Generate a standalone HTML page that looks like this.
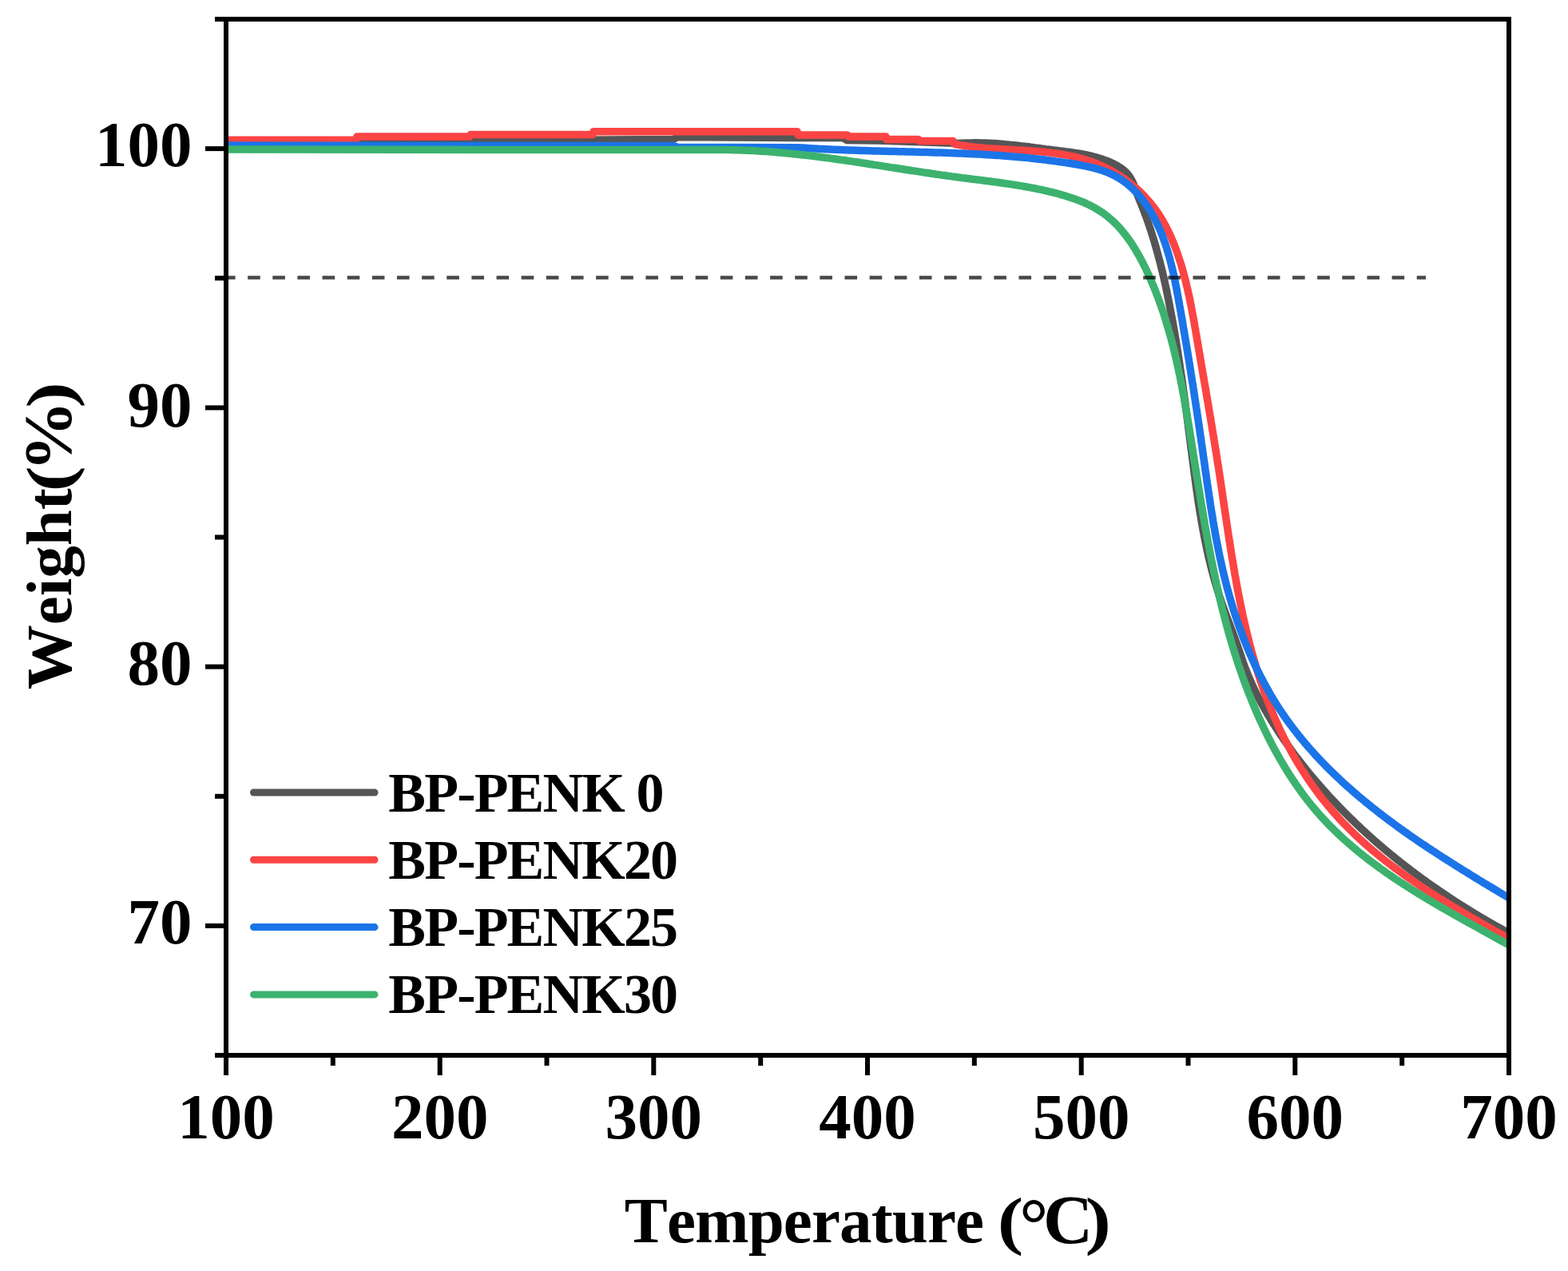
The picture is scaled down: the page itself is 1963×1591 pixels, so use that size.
<!DOCTYPE html><html><head><meta charset="utf-8"><title>TGA</title><style>html,body{margin:0;padding:0;background:#fff;}svg{display:block}text{font-family:"Liberation Serif","Times New Roman",serif;font-weight:bold;font-kerning:none}</style></head><body>
<svg width="1963" height="1591" viewBox="0 0 1963 1591">
<rect width="1963" height="1591" fill="#fff"/>
<g fill="none" stroke-width="9.5" stroke-linejoin="round" stroke-linecap="butt">
<path d="M283.0,178.0 L446.0,177.5 L843.0,174.5 L848.0,171.5 L1000.0,172.5 L1055.0,172.5 L1060.0,175.5 L1100.0,176.0 L1130.0,177.0 L1160.0,178.0 L1200.0,179.5 L1202.8,179.3 L1205.5,179.2 L1208.2,179.1 L1211.0,179.0 L1213.7,178.9 L1216.4,178.9 L1219.1,178.8 L1221.8,178.8 L1224.5,178.8 L1227.2,178.9 L1229.9,178.9 L1232.5,179.0 L1235.2,179.1 L1237.9,179.2 L1240.5,179.3 L1243.2,179.5 L1245.8,179.6 L1248.5,179.8 L1251.1,180.0 L1253.7,180.2 L1256.4,180.4 L1259.0,180.7 L1261.6,180.9 L1264.3,181.2 L1266.9,181.4 L1269.5,181.7 L1272.1,182.0 L1274.8,182.3 L1277.4,182.6 L1280.0,182.9 L1282.7,183.2 L1285.3,183.5 L1287.9,183.8 L1290.6,184.2 L1293.2,184.5 L1295.9,184.9 L1298.5,185.2 L1301.2,185.5 L1303.8,185.9 L1306.5,186.2 L1309.1,186.6 L1311.8,186.9 L1314.5,187.3 L1317.2,187.6 L1319.9,188.0 L1322.6,188.3 L1325.3,188.6 L1328.0,189.0 L1330.7,189.3 L1333.4,189.7 L1336.1,190.0 L1338.8,190.4 L1341.6,190.8 L1344.3,191.2 L1347.0,191.6 L1349.7,192.0 L1352.4,192.5 L1355.0,193.0 L1357.7,193.5 L1360.4,194.0 L1363.0,194.6 L1365.7,195.2 L1368.3,195.8 L1370.9,196.5 L1373.5,197.2 L1376.1,198.0 L1378.6,198.8 L1381.2,199.7 L1383.7,200.6 L1386.2,201.5 L1388.6,202.5 L1391.1,203.6 L1393.5,204.7 L1395.8,205.9 L1398.1,207.1 L1400.4,208.5 L1402.6,209.9 L1404.7,211.4 L1406.7,213.0 L1408.6,214.6 L1410.4,216.4 L1412.1,218.3 L1413.6,220.3 L1415.0,222.4 L1416.3,224.6 L1417.5,226.9 L1418.6,229.3 L1419.6,231.7 L1420.6,234.2 L1421.5,236.7 L1422.4,239.3 L1423.3,241.8 L1424.3,244.4 L1425.2,246.9 L1426.2,249.4 L1427.2,251.9 L1428.3,254.4 L1429.3,256.9 L1430.3,259.4 L1431.2,261.9 L1432.2,264.4 L1433.1,266.9 L1434.1,269.4 L1435.0,272.0 L1435.9,274.5 L1436.8,277.0 L1437.7,279.5 L1438.6,282.1 L1439.4,284.6 L1440.3,287.1 L1441.1,289.7 L1441.9,292.2 L1442.7,294.8 L1443.5,297.3 L1444.3,299.9 L1445.1,302.4 L1445.8,305.0 L1446.6,307.6 L1447.3,310.1 L1448.0,312.7 L1448.7,315.3 L1449.4,317.8 L1450.1,320.4 L1450.8,323.0 L1451.5,325.6 L1452.2,328.2 L1452.8,330.8 L1453.5,333.3 L1454.1,335.9 L1454.7,338.5 L1455.4,341.1 L1456.0,343.7 L1456.6,346.3 L1457.2,348.9 L1457.8,351.5 L1458.4,354.1 L1458.9,356.7 L1459.5,359.3 L1460.1,362.0 L1460.6,364.6 L1461.2,367.2 L1461.7,369.8 L1462.2,372.4 L1462.8,375.0 L1463.3,377.6 L1463.8,380.3 L1464.3,382.9 L1464.8,385.5 L1465.3,388.1 L1465.8,390.7 L1466.3,393.4 L1466.8,396.0 L1467.3,398.6 L1467.8,401.2 L1468.3,403.9 L1468.7,406.5 L1469.2,409.1 L1469.7,411.8 L1470.1,414.4 L1470.6,417.0 L1471.0,419.7 L1471.5,422.3 L1471.9,424.9 L1472.3,427.6 L1472.8,430.2 L1473.2,432.8 L1473.6,435.5 L1474.1,438.1 L1474.5,440.7 L1474.9,443.4 L1475.3,446.0 L1475.7,448.7 L1476.1,451.3 L1476.5,454.0 L1476.9,456.6 L1477.3,459.2 L1477.7,461.9 L1478.1,464.5 L1478.5,467.2 L1478.9,469.8 L1479.3,472.5 L1479.7,475.1 L1480.0,477.8 L1480.4,480.4 L1480.8,483.1 L1481.2,485.7 L1481.5,488.4 L1481.9,491.0 L1482.3,493.7 L1482.6,496.3 L1483.0,499.0 L1483.4,501.7 L1483.7,504.3 L1484.1,507.0 L1484.4,509.6 L1484.8,512.3 L1485.2,514.9 L1485.5,517.6 L1485.9,520.3 L1486.2,522.9 L1486.6,525.6 L1486.9,528.2 L1487.3,530.9 L1487.6,533.6 L1487.9,536.2 L1488.3,538.9 L1488.6,541.6 L1489.0,544.2 L1489.3,546.9 L1489.7,549.6 L1490.0,552.2 L1490.3,554.9 L1490.7,557.6 L1491.0,560.2 L1491.4,562.9 L1491.7,565.6 L1492.1,568.2 L1492.4,570.9 L1492.7,573.6 L1493.1,576.2 L1493.4,578.9 L1493.8,581.6 L1494.1,584.2 L1494.5,586.9 L1494.8,589.6 L1495.2,592.2 L1495.5,594.9 L1495.9,597.6 L1496.2,600.2 L1496.6,602.9 L1497.0,605.6 L1497.3,608.2 L1497.7,610.9 L1498.1,613.6 L1498.5,616.2 L1498.9,618.9 L1499.2,621.5 L1499.6,624.2 L1500.0,626.9 L1500.4,629.5 L1500.8,632.2 L1501.3,634.8 L1501.7,637.5 L1502.1,640.1 L1502.5,642.8 L1503.0,645.4 L1503.4,648.1 L1503.9,650.7 L1504.3,653.3 L1504.8,656.0 L1505.2,658.6 L1505.7,661.3 L1506.2,663.9 L1506.7,666.5 L1507.2,669.1 L1507.7,671.8 L1508.2,674.4 L1508.7,677.0 L1509.3,679.6 L1509.8,682.2 L1510.4,684.8 L1510.9,687.5 L1511.5,690.1 L1512.1,692.7 L1512.6,695.3 L1513.2,697.9 L1513.9,700.4 L1514.5,703.0 L1515.1,705.6 L1515.7,708.2 L1516.4,710.8 L1517.0,713.4 L1517.7,715.9 L1518.4,718.5 L1519.1,721.1 L1519.8,723.6 L1520.5,726.2 L1521.3,728.7 L1522.0,731.3 L1522.8,733.8 L1523.5,736.4 L1524.3,738.9 L1525.1,741.4 L1525.9,744.0 L1526.7,746.5 L1527.6,749.0 L1528.4,751.5 L1529.3,754.0 L1530.2,756.5 L1531.1,759.0 L1532.0,761.5 L1532.9,764.0 L1533.8,766.5 L1534.7,769.0 L1535.6,771.5 L1536.5,774.0 L1537.5,776.5 L1538.4,779.0 L1539.4,781.5 L1540.3,784.0 L1541.2,786.4 L1542.2,788.9 L1543.1,791.4 L1544.0,793.9 L1544.9,796.4 L1545.9,799.0 L1546.8,801.5 L1547.7,804.0 L1548.6,806.5 L1549.5,809.0 L1550.3,811.6 L1551.2,814.1 L1552.1,816.6 L1552.9,819.2 L1553.8,821.7 L1554.7,824.3 L1555.5,826.8 L1556.4,829.3 L1557.3,831.8 L1558.2,834.4 L1559.2,836.9 L1560.1,839.4 L1561.1,841.8 L1562.1,844.3 L1563.1,846.8 L1564.1,849.2 L1565.2,851.7 L1566.3,854.1 L1567.4,856.6 L1568.5,859.0 L1569.6,861.4 L1570.8,863.8 L1571.9,866.2 L1573.1,868.6 L1574.3,870.9 L1575.5,873.3 L1576.7,875.6 L1578.0,878.0 L1579.2,880.3 L1580.5,882.7 L1581.8,885.0 L1583.1,887.3 L1584.4,889.6 L1585.8,891.9 L1587.1,894.2 L1588.5,896.5 L1589.9,898.8 L1591.2,901.1 L1592.6,903.3 L1594.0,905.6 L1595.5,907.8 L1596.9,910.1 L1598.3,912.3 L1599.8,914.6 L1601.3,916.8 L1602.7,919.0 L1604.2,921.2 L1605.7,923.5 L1607.2,925.7 L1608.7,927.9 L1610.3,930.1 L1611.8,932.2 L1613.3,934.4 L1614.9,936.6 L1616.5,938.8 L1618.0,940.9 L1619.6,943.1 L1621.2,945.2 L1622.8,947.4 L1624.5,949.5 L1626.1,951.6 L1627.7,953.7 L1629.4,955.9 L1631.0,958.0 L1632.7,960.1 L1634.3,962.2 L1636.0,964.3 L1637.7,966.3 L1639.4,968.4 L1641.1,970.5 L1642.8,972.5 L1644.6,974.6 L1646.3,976.6 L1648.0,978.7 L1649.8,980.7 L1651.5,982.7 L1653.3,984.8 L1655.1,986.8 L1656.8,988.8 L1658.6,990.8 L1660.4,992.8 L1662.2,994.8 L1664.0,996.7 L1665.9,998.7 L1667.7,1000.7 L1669.5,1002.6 L1671.4,1004.6 L1673.2,1006.5 L1675.1,1008.5 L1676.9,1010.4 L1678.8,1012.3 L1680.7,1014.2 L1682.5,1016.1 L1684.4,1018.0 L1686.3,1019.9 L1688.2,1021.8 L1690.1,1023.7 L1692.0,1025.6 L1694.0,1027.4 L1695.9,1029.3 L1697.8,1031.2 L1699.8,1033.0 L1701.7,1034.8 L1703.7,1036.7 L1705.6,1038.5 L1707.6,1040.3 L1709.6,1042.1 L1711.5,1043.9 L1713.5,1045.7 L1715.5,1047.5 L1717.5,1049.3 L1719.5,1051.1 L1721.5,1052.8 L1723.5,1054.6 L1725.5,1056.3 L1727.6,1058.1 L1729.6,1059.8 L1731.6,1061.6 L1733.7,1063.3 L1735.7,1065.0 L1737.8,1066.7 L1739.8,1068.4 L1741.9,1070.1 L1744.0,1071.8 L1746.1,1073.5 L1748.1,1075.2 L1750.2,1076.9 L1752.3,1078.5 L1754.4,1080.2 L1756.5,1081.8 L1758.6,1083.5 L1760.7,1085.1 L1762.9,1086.7 L1765.0,1088.4 L1767.1,1090.0 L1769.3,1091.6 L1771.4,1093.2 L1773.5,1094.8 L1775.7,1096.4 L1777.9,1098.0 L1780.0,1099.6 L1782.2,1101.1 L1784.4,1102.7 L1786.5,1104.3 L1788.7,1105.8 L1790.9,1107.4 L1793.1,1108.9 L1795.3,1110.5 L1797.5,1112.0 L1799.7,1113.5 L1801.9,1115.0 L1804.1,1116.5 L1806.3,1118.0 L1808.6,1119.5 L1810.8,1121.0 L1813.0,1122.5 L1815.3,1124.0 L1817.5,1125.4 L1819.7,1126.9 L1822.0,1128.4 L1824.2,1129.8 L1826.5,1131.3 L1828.8,1132.7 L1831.0,1134.1 L1833.3,1135.6 L1835.6,1137.0 L1837.9,1138.4 L1840.2,1139.8 L1842.4,1141.2 L1844.7,1142.6 L1847.0,1144.0 L1849.3,1145.4 L1851.6,1146.8 L1853.9,1148.1 L1856.3,1149.5 L1858.6,1150.9 L1860.9,1152.2 L1863.2,1153.6 L1865.5,1154.9 L1867.9,1156.2 L1870.2,1157.6 L1872.5,1158.9 L1874.9,1160.2 L1877.2,1161.5 L1879.6,1162.8 L1881.9,1164.1 L1884.3,1165.4 L1886.6,1166.7 L1889.0,1168.0" stroke="#555555"/>
<path d="M283.0,175.2 L446.0,175.2 L447.0,171.0 L588.0,171.0 L589.0,168.6 L742.0,168.6 L743.0,164.7 L998.0,164.7 L999.0,169.0 L1061.0,169.0 L1062.0,171.0 L1109.0,171.0 L1110.0,174.5 L1150.0,174.5 L1151.0,176.5 L1193.0,176.5 L1194.0,180.0 L1196.5,180.5 L1199.0,181.0 L1201.5,181.5 L1204.0,181.9 L1206.6,182.3 L1209.2,182.7 L1211.7,183.1 L1214.3,183.4 L1216.9,183.8 L1219.6,184.1 L1222.2,184.4 L1224.9,184.6 L1227.5,184.9 L1230.2,185.1 L1232.9,185.4 L1235.6,185.6 L1238.3,185.8 L1241.0,186.0 L1243.7,186.2 L1246.4,186.3 L1249.2,186.5 L1251.9,186.7 L1254.7,186.8 L1257.4,187.0 L1260.2,187.1 L1263.0,187.3 L1265.7,187.5 L1268.5,187.6 L1271.3,187.8 L1274.1,187.9 L1276.9,188.1 L1279.6,188.2 L1282.4,188.4 L1285.2,188.6 L1288.0,188.8 L1290.8,188.9 L1293.5,189.2 L1296.3,189.4 L1299.1,189.6 L1301.9,189.8 L1304.6,190.1 L1307.4,190.3 L1310.2,190.6 L1312.9,190.9 L1315.7,191.3 L1318.4,191.6 L1321.1,192.0 L1323.9,192.3 L1326.6,192.7 L1329.3,193.2 L1332.0,193.6 L1334.7,194.1 L1337.4,194.6 L1340.0,195.2 L1342.7,195.7 L1345.3,196.3 L1347.9,196.9 L1350.6,197.6 L1353.2,198.3 L1355.8,199.0 L1358.3,199.8 L1360.9,200.6 L1363.4,201.4 L1365.9,202.3 L1368.5,203.2 L1370.9,204.2 L1373.4,205.2 L1375.9,206.2 L1378.3,207.2 L1380.7,208.3 L1383.1,209.5 L1385.5,210.6 L1387.8,211.8 L1390.2,213.1 L1392.5,214.3 L1394.8,215.7 L1397.0,217.0 L1399.3,218.4 L1401.5,219.8 L1403.7,221.2 L1405.9,222.7 L1408.0,224.2 L1410.2,225.7 L1412.3,227.3 L1414.4,228.9 L1416.4,230.6 L1418.4,232.2 L1420.4,233.9 L1422.4,235.7 L1424.4,237.4 L1426.3,239.2 L1428.2,241.0 L1430.0,242.9 L1431.9,244.7 L1433.7,246.7 L1435.4,248.6 L1437.2,250.6 L1438.9,252.6 L1440.6,254.6 L1442.2,256.6 L1443.8,258.7 L1445.4,260.8 L1447.0,262.9 L1448.5,265.1 L1450.0,267.3 L1451.5,269.5 L1452.9,271.7 L1454.3,274.0 L1455.6,276.3 L1456.9,278.6 L1458.2,280.9 L1459.5,283.3 L1460.7,285.6 L1461.9,288.0 L1463.1,290.4 L1464.2,292.9 L1465.4,295.3 L1466.4,297.8 L1467.5,300.2 L1468.5,302.7 L1469.6,305.2 L1470.5,307.8 L1471.5,310.3 L1472.5,312.8 L1473.4,315.4 L1474.3,317.9 L1475.1,320.5 L1476.0,323.1 L1476.8,325.6 L1477.7,328.2 L1478.5,330.8 L1479.2,333.4 L1480.0,336.0 L1480.8,338.7 L1481.5,341.3 L1482.2,343.9 L1482.9,346.5 L1483.6,349.2 L1484.3,351.8 L1484.9,354.4 L1485.5,357.1 L1486.2,359.7 L1486.8,362.4 L1487.4,365.1 L1488.0,367.7 L1488.6,370.4 L1489.1,373.1 L1489.7,375.7 L1490.2,378.4 L1490.8,381.1 L1491.3,383.8 L1491.8,386.5 L1492.3,389.1 L1492.8,391.8 L1493.3,394.5 L1493.8,397.2 L1494.3,399.9 L1494.8,402.6 L1495.3,405.3 L1495.7,408.0 L1496.2,410.7 L1496.7,413.3 L1497.1,416.0 L1497.6,418.7 L1498.1,421.4 L1498.5,424.1 L1499.0,426.8 L1499.4,429.4 L1499.9,432.1 L1500.3,434.8 L1500.8,437.5 L1501.2,440.1 L1501.7,442.8 L1502.2,445.5 L1502.6,448.1 L1503.1,450.8 L1503.5,453.5 L1504.0,456.1 L1504.4,458.8 L1504.9,461.4 L1505.3,464.1 L1505.8,466.7 L1506.2,469.4 L1506.7,472.0 L1507.1,474.7 L1507.6,477.3 L1508.1,480.0 L1508.5,482.6 L1509.0,485.3 L1509.4,487.9 L1509.9,490.6 L1510.3,493.2 L1510.8,495.8 L1511.2,498.5 L1511.7,501.1 L1512.1,503.8 L1512.5,506.4 L1513.0,509.0 L1513.4,511.7 L1513.9,514.3 L1514.3,517.0 L1514.8,519.6 L1515.2,522.2 L1515.7,524.9 L1516.1,527.5 L1516.5,530.1 L1517.0,532.8 L1517.4,535.4 L1517.8,538.0 L1518.3,540.7 L1518.7,543.3 L1519.1,546.0 L1519.6,548.6 L1520.0,551.2 L1520.4,553.9 L1520.9,556.5 L1521.3,559.2 L1521.7,561.8 L1522.1,564.4 L1522.6,567.1 L1523.0,569.7 L1523.4,572.4 L1523.8,575.0 L1524.2,577.7 L1524.6,580.3 L1525.0,583.0 L1525.5,585.6 L1525.9,588.3 L1526.3,590.9 L1526.7,593.6 L1527.1,596.3 L1527.5,598.9 L1527.9,601.6 L1528.3,604.2 L1528.7,606.9 L1529.1,609.6 L1529.5,612.2 L1529.9,614.9 L1530.3,617.6 L1530.7,620.3 L1531.0,622.9 L1531.4,625.6 L1531.8,628.3 L1532.2,630.9 L1532.6,633.6 L1533.0,636.3 L1533.4,639.0 L1533.8,641.6 L1534.2,644.3 L1534.6,647.0 L1535.0,649.7 L1535.4,652.4 L1535.8,655.0 L1536.2,657.7 L1536.6,660.4 L1537.0,663.1 L1537.4,665.8 L1537.8,668.4 L1538.2,671.1 L1538.6,673.8 L1539.0,676.5 L1539.5,679.1 L1539.9,681.8 L1540.3,684.5 L1540.7,687.2 L1541.1,689.9 L1541.6,692.5 L1542.0,695.2 L1542.4,697.9 L1542.9,700.6 L1543.3,703.2 L1543.8,705.9 L1544.2,708.6 L1544.7,711.3 L1545.1,713.9 L1545.6,716.6 L1546.0,719.3 L1546.5,721.9 L1547.0,724.6 L1547.5,727.3 L1547.9,729.9 L1548.4,732.6 L1548.9,735.3 L1549.4,737.9 L1549.9,740.6 L1550.4,743.2 L1550.9,745.9 L1551.5,748.5 L1552.0,751.2 L1552.5,753.8 L1553.1,756.5 L1553.6,759.1 L1554.1,761.8 L1554.7,764.4 L1555.3,767.1 L1555.8,769.7 L1556.4,772.3 L1557.0,775.0 L1557.6,777.6 L1558.2,780.2 L1558.8,782.9 L1559.4,785.5 L1560.0,788.1 L1560.6,790.7 L1561.3,793.4 L1561.9,796.0 L1562.6,798.6 L1563.2,801.2 L1563.9,803.8 L1564.5,806.4 L1565.2,809.0 L1565.9,811.6 L1566.6,814.2 L1567.3,816.8 L1568.0,819.4 L1568.8,822.0 L1569.5,824.6 L1570.3,827.1 L1571.0,829.7 L1571.8,832.3 L1572.5,834.9 L1573.3,837.4 L1574.1,840.0 L1574.9,842.5 L1575.7,845.1 L1576.6,847.7 L1577.4,850.2 L1578.2,852.7 L1579.1,855.3 L1580.0,857.8 L1580.8,860.4 L1581.7,862.9 L1582.6,865.4 L1583.5,867.9 L1584.5,870.4 L1585.4,873.0 L1586.3,875.5 L1587.3,878.0 L1588.3,880.5 L1589.3,883.0 L1590.2,885.4 L1591.3,887.9 L1592.3,890.4 L1593.3,892.9 L1594.4,895.4 L1595.4,897.8 L1596.5,900.3 L1597.6,902.7 L1598.7,905.2 L1599.8,907.6 L1600.9,910.1 L1602.0,912.5 L1603.2,914.9 L1604.3,917.4 L1605.5,919.8 L1606.7,922.2 L1607.9,924.6 L1609.1,927.0 L1610.4,929.4 L1611.6,931.8 L1612.9,934.2 L1614.2,936.6 L1615.5,938.9 L1616.8,941.3 L1618.1,943.7 L1619.4,946.0 L1620.8,948.4 L1622.1,950.7 L1623.5,953.0 L1624.9,955.4 L1626.3,957.7 L1627.7,960.0 L1629.2,962.3 L1630.6,964.6 L1632.1,966.8 L1633.5,969.1 L1635.0,971.4 L1636.5,973.6 L1638.0,975.9 L1639.5,978.1 L1641.1,980.3 L1642.6,982.5 L1644.2,984.7 L1645.8,986.9 L1647.4,989.1 L1649.0,991.3 L1650.6,993.5 L1652.2,995.6 L1653.9,997.8 L1655.5,999.9 L1657.2,1002.0 L1658.9,1004.1 L1660.6,1006.2 L1662.3,1008.3 L1664.0,1010.4 L1665.8,1012.4 L1667.5,1014.5 L1669.3,1016.5 L1671.1,1018.5 L1672.9,1020.5 L1674.7,1022.5 L1676.5,1024.5 L1678.3,1026.5 L1680.1,1028.4 L1682.0,1030.4 L1683.9,1032.3 L1685.7,1034.2 L1687.6,1036.1 L1689.5,1038.0 L1691.4,1039.9 L1693.4,1041.8 L1695.3,1043.7 L1697.2,1045.5 L1699.2,1047.4 L1701.2,1049.2 L1703.1,1051.0 L1705.1,1052.8 L1707.1,1054.6 L1709.1,1056.4 L1711.1,1058.2 L1713.2,1060.0 L1715.2,1061.7 L1717.2,1063.5 L1719.3,1065.2 L1721.4,1066.9 L1723.4,1068.6 L1725.5,1070.3 L1727.6,1072.0 L1729.7,1073.7 L1731.8,1075.4 L1733.9,1077.1 L1736.0,1078.7 L1738.2,1080.4 L1740.3,1082.0 L1742.5,1083.7 L1744.6,1085.3 L1746.8,1086.9 L1748.9,1088.5 L1751.1,1090.1 L1753.3,1091.7 L1755.5,1093.3 L1757.7,1094.9 L1759.9,1096.5 L1762.1,1098.0 L1764.3,1099.6 L1766.5,1101.1 L1768.8,1102.6 L1771.0,1104.2 L1773.2,1105.7 L1775.5,1107.2 L1777.7,1108.7 L1780.0,1110.2 L1782.2,1111.7 L1784.5,1113.2 L1786.8,1114.7 L1789.0,1116.2 L1791.3,1117.6 L1793.6,1119.1 L1795.9,1120.6 L1798.2,1122.0 L1800.5,1123.5 L1802.8,1124.9 L1805.1,1126.3 L1807.4,1127.8 L1809.7,1129.2 L1812.0,1130.6 L1814.3,1132.0 L1816.6,1133.4 L1818.9,1134.8 L1821.3,1136.2 L1823.6,1137.6 L1825.9,1139.0 L1828.2,1140.4 L1830.6,1141.7 L1832.9,1143.1 L1835.2,1144.5 L1837.6,1145.8 L1839.9,1147.2 L1842.2,1148.6 L1844.6,1149.9 L1846.9,1151.3 L1849.3,1152.6 L1851.6,1153.9 L1853.9,1155.3 L1856.3,1156.6 L1858.6,1157.9 L1861.0,1159.3 L1863.3,1160.6 L1865.6,1161.9 L1868.0,1163.2 L1870.3,1164.6 L1872.7,1165.9 L1875.0,1167.2 L1877.3,1168.5 L1879.7,1169.8 L1882.0,1171.1 L1884.3,1172.4 L1886.7,1173.7 L1889.0,1175.0" stroke="#fc4444"/>
<path d="M283.0,182.0 L843.0,182.5 L848.0,184.3 L1000.0,184.7 L1003.0,184.9 L1006.0,185.1 L1009.0,185.3 L1012.0,185.5 L1015.0,185.7 L1018.0,185.9 L1021.0,186.0 L1023.9,186.2 L1026.9,186.4 L1029.9,186.5 L1032.9,186.7 L1035.9,186.8 L1038.9,186.9 L1041.9,187.1 L1044.9,187.2 L1047.9,187.3 L1050.8,187.5 L1053.8,187.6 L1056.8,187.7 L1059.8,187.8 L1062.8,187.9 L1065.8,188.0 L1068.7,188.1 L1071.7,188.2 L1074.7,188.3 L1077.7,188.4 L1080.7,188.5 L1083.6,188.6 L1086.6,188.7 L1089.6,188.8 L1092.6,188.9 L1095.6,188.9 L1098.5,189.0 L1101.5,189.1 L1104.5,189.2 L1107.5,189.2 L1110.4,189.3 L1113.4,189.4 L1116.4,189.5 L1119.4,189.5 L1122.3,189.6 L1125.3,189.7 L1128.3,189.8 L1131.3,189.8 L1134.2,189.9 L1137.2,190.0 L1140.2,190.0 L1143.2,190.1 L1146.1,190.2 L1149.1,190.3 L1152.1,190.4 L1155.1,190.4 L1158.0,190.5 L1161.0,190.6 L1164.0,190.7 L1167.0,190.8 L1169.9,190.9 L1172.9,190.9 L1175.9,191.0 L1178.9,191.1 L1181.8,191.2 L1184.8,191.3 L1187.8,191.4 L1190.8,191.5 L1193.7,191.7 L1196.7,191.8 L1199.7,191.9 L1202.7,192.0 L1205.6,192.1 L1208.6,192.3 L1211.6,192.4 L1214.6,192.5 L1217.5,192.7 L1220.5,192.8 L1223.5,193.0 L1226.5,193.1 L1229.4,193.3 L1232.4,193.5 L1235.4,193.7 L1238.4,193.8 L1241.3,194.0 L1244.3,194.2 L1247.3,194.4 L1250.3,194.6 L1253.3,194.8 L1256.2,195.0 L1259.2,195.3 L1262.2,195.5 L1265.2,195.7 L1268.2,196.0 L1271.1,196.2 L1274.1,196.5 L1277.1,196.8 L1280.1,197.1 L1283.1,197.3 L1286.1,197.6 L1289.0,197.9 L1292.0,198.2 L1295.0,198.6 L1298.0,198.9 L1301.0,199.2 L1304.0,199.6 L1307.0,199.9 L1310.0,200.3 L1313.0,200.7 L1315.9,201.1 L1318.9,201.4 L1321.9,201.9 L1324.9,202.3 L1327.9,202.7 L1330.9,203.1 L1333.9,203.6 L1336.9,204.0 L1339.9,204.5 L1342.9,205.0 L1345.9,205.5 L1348.9,206.0 L1351.9,206.5 L1354.9,207.1 L1357.8,207.7 L1360.8,208.3 L1363.7,208.9 L1366.6,209.6 L1369.5,210.3 L1372.4,211.1 L1375.3,211.9 L1378.1,212.8 L1380.9,213.7 L1383.7,214.7 L1386.4,215.8 L1389.1,216.9 L1391.7,218.1 L1394.3,219.3 L1396.9,220.7 L1399.4,222.1 L1401.9,223.6 L1404.3,225.1 L1406.7,226.8 L1409.0,228.5 L1411.3,230.3 L1413.5,232.2 L1415.7,234.1 L1417.8,236.1 L1419.9,238.1 L1421.9,240.2 L1423.9,242.3 L1425.8,244.5 L1427.7,246.7 L1429.5,249.0 L1431.3,251.3 L1433.0,253.6 L1434.7,256.0 L1436.3,258.3 L1437.9,260.8 L1439.5,263.2 L1441.0,265.7 L1442.4,268.2 L1443.8,270.7 L1445.2,273.2 L1446.6,275.8 L1447.9,278.4 L1449.1,281.0 L1450.3,283.7 L1451.5,286.3 L1452.7,289.0 L1453.8,291.7 L1454.9,294.4 L1455.9,297.2 L1456.9,299.9 L1457.9,302.7 L1458.9,305.5 L1459.8,308.3 L1460.7,311.2 L1461.6,314.0 L1462.5,316.9 L1463.3,319.7 L1464.1,322.6 L1464.9,325.5 L1465.6,328.4 L1466.4,331.3 L1467.1,334.3 L1467.8,337.2 L1468.5,340.1 L1469.1,343.1 L1469.8,346.0 L1470.4,349.0 L1471.0,352.0 L1471.6,355.0 L1472.2,357.9 L1472.8,360.9 L1473.4,363.9 L1473.9,366.9 L1474.5,369.9 L1475.0,372.9 L1475.6,375.9 L1476.1,378.9 L1476.6,381.9 L1477.2,384.9 L1477.7,387.8 L1478.2,390.8 L1478.7,393.8 L1479.2,396.8 L1479.8,399.8 L1480.3,402.7 L1480.8,405.7 L1481.3,408.7 L1481.8,411.6 L1482.3,414.6 L1482.8,417.6 L1483.3,420.5 L1483.8,423.5 L1484.3,426.4 L1484.8,429.4 L1485.3,432.4 L1485.8,435.3 L1486.3,438.3 L1486.8,441.2 L1487.2,444.1 L1487.7,447.1 L1488.2,450.0 L1488.7,453.0 L1489.2,455.9 L1489.6,458.9 L1490.1,461.8 L1490.6,464.7 L1491.0,467.7 L1491.5,470.6 L1492.0,473.5 L1492.4,476.5 L1492.9,479.4 L1493.4,482.3 L1493.8,485.2 L1494.3,488.2 L1494.7,491.1 L1495.2,494.0 L1495.6,497.0 L1496.1,499.9 L1496.5,502.8 L1497.0,505.7 L1497.4,508.7 L1497.9,511.6 L1498.3,514.5 L1498.7,517.4 L1499.2,520.4 L1499.6,523.3 L1500.1,526.2 L1500.5,529.2 L1500.9,532.1 L1501.4,535.0 L1501.8,537.9 L1502.2,540.9 L1502.6,543.8 L1503.1,546.7 L1503.5,549.7 L1503.9,552.6 L1504.3,555.5 L1504.8,558.5 L1505.2,561.4 L1505.6,564.3 L1506.0,567.3 L1506.4,570.2 L1506.8,573.1 L1507.3,576.1 L1507.7,579.0 L1508.1,581.9 L1508.5,584.9 L1508.9,587.8 L1509.3,590.8 L1509.8,593.7 L1510.2,596.7 L1510.6,599.6 L1511.0,602.5 L1511.4,605.5 L1511.9,608.4 L1512.3,611.4 L1512.7,614.3 L1513.2,617.3 L1513.6,620.2 L1514.1,623.1 L1514.5,626.1 L1515.0,629.0 L1515.4,632.0 L1515.9,634.9 L1516.3,637.8 L1516.8,640.8 L1517.3,643.7 L1517.8,646.7 L1518.3,649.6 L1518.7,652.5 L1519.2,655.5 L1519.8,658.4 L1520.3,661.4 L1520.8,664.3 L1521.3,667.2 L1521.8,670.2 L1522.4,673.1 L1522.9,676.0 L1523.5,678.9 L1524.1,681.9 L1524.6,684.8 L1525.2,687.7 L1525.8,690.6 L1526.4,693.6 L1527.0,696.5 L1527.6,699.4 L1528.3,702.3 L1528.9,705.2 L1529.6,708.2 L1530.2,711.1 L1530.9,714.0 L1531.6,716.9 L1532.3,719.8 L1533.0,722.7 L1533.7,725.6 L1534.4,728.5 L1535.2,731.4 L1535.9,734.3 L1536.7,737.2 L1537.5,740.1 L1538.3,743.0 L1539.1,745.8 L1539.9,748.7 L1540.8,751.6 L1541.6,754.5 L1542.5,757.4 L1543.4,760.2 L1544.2,763.1 L1545.2,766.0 L1546.1,768.8 L1547.0,771.7 L1548.0,774.5 L1548.9,777.4 L1549.9,780.2 L1550.9,783.0 L1551.9,785.9 L1553.0,788.7 L1554.0,791.5 L1555.1,794.3 L1556.1,797.1 L1557.2,800.0 L1558.3,802.7 L1559.4,805.5 L1560.6,808.3 L1561.7,811.1 L1562.9,813.9 L1564.0,816.6 L1565.2,819.4 L1566.4,822.1 L1567.7,824.9 L1568.9,827.6 L1570.2,830.3 L1571.4,833.0 L1572.7,835.7 L1574.0,838.4 L1575.4,841.1 L1576.7,843.8 L1578.0,846.5 L1579.4,849.1 L1580.8,851.8 L1582.2,854.4 L1583.6,857.0 L1585.0,859.6 L1586.5,862.3 L1588.0,864.8 L1589.4,867.4 L1590.9,870.0 L1592.4,872.6 L1594.0,875.1 L1595.5,877.6 L1597.1,880.2 L1598.7,882.7 L1600.3,885.2 L1601.9,887.7 L1603.5,890.1 L1605.2,892.6 L1606.8,895.0 L1608.5,897.5 L1610.2,899.9 L1611.9,902.3 L1613.7,904.7 L1615.4,907.1 L1617.2,909.4 L1619.0,911.8 L1620.8,914.1 L1622.6,916.5 L1624.4,918.8 L1626.2,921.1 L1628.1,923.4 L1630.0,925.7 L1631.9,927.9 L1633.7,930.2 L1635.7,932.4 L1637.6,934.7 L1639.5,936.9 L1641.5,939.1 L1643.5,941.3 L1645.4,943.5 L1647.4,945.7 L1649.4,947.9 L1651.5,950.0 L1653.5,952.2 L1655.5,954.3 L1657.6,956.4 L1659.7,958.6 L1661.7,960.7 L1663.8,962.8 L1665.9,964.8 L1668.1,966.9 L1670.2,969.0 L1672.3,971.0 L1674.5,973.1 L1676.7,975.1 L1678.8,977.1 L1681.0,979.2 L1683.2,981.2 L1685.4,983.2 L1687.6,985.1 L1689.9,987.1 L1692.1,989.1 L1694.3,991.1 L1696.6,993.0 L1698.9,994.9 L1701.1,996.9 L1703.4,998.8 L1705.7,1000.7 L1708.0,1002.6 L1710.3,1004.5 L1712.6,1006.4 L1715.0,1008.3 L1717.3,1010.2 L1719.6,1012.0 L1722.0,1013.9 L1724.3,1015.7 L1726.7,1017.6 L1729.1,1019.4 L1731.5,1021.2 L1733.8,1023.0 L1736.2,1024.8 L1738.6,1026.6 L1741.0,1028.4 L1743.5,1030.2 L1745.9,1032.0 L1748.3,1033.8 L1750.7,1035.5 L1753.2,1037.3 L1755.6,1039.0 L1758.1,1040.8 L1760.5,1042.5 L1763.0,1044.2 L1765.4,1046.0 L1767.9,1047.7 L1770.4,1049.4 L1772.9,1051.1 L1775.3,1052.8 L1777.8,1054.5 L1780.3,1056.2 L1782.8,1057.8 L1785.3,1059.5 L1787.8,1061.2 L1790.3,1062.8 L1792.8,1064.5 L1795.3,1066.1 L1797.9,1067.8 L1800.4,1069.4 L1802.9,1071.1 L1805.4,1072.7 L1807.9,1074.3 L1810.5,1075.9 L1813.0,1077.5 L1815.5,1079.1 L1818.1,1080.7 L1820.6,1082.3 L1823.1,1083.9 L1825.7,1085.5 L1828.2,1087.1 L1830.7,1088.7 L1833.3,1090.3 L1835.8,1091.8 L1838.4,1093.4 L1840.9,1095.0 L1843.4,1096.5 L1846.0,1098.1 L1848.5,1099.6 L1851.1,1101.2 L1853.6,1102.7 L1856.1,1104.3 L1858.7,1105.8 L1861.2,1107.3 L1863.7,1108.9 L1866.3,1110.4 L1868.8,1111.9 L1871.3,1113.4 L1873.9,1114.9 L1876.4,1116.5 L1878.9,1118.0 L1881.4,1119.5 L1884.0,1121.0 L1886.5,1122.5 L1889.0,1124.0" stroke="#1b74e8"/>
<path d="M283.0,187.0 L600.0,187.5 L904.0,187.5 L907.2,187.5 L910.5,187.6 L913.7,187.6 L916.9,187.7 L920.2,187.8 L923.4,187.8 L926.6,187.9 L929.8,188.1 L933.0,188.2 L936.2,188.3 L939.4,188.5 L942.6,188.6 L945.8,188.8 L949.0,189.0 L952.2,189.2 L955.4,189.4 L958.6,189.6 L961.8,189.8 L965.0,190.1 L968.2,190.3 L971.3,190.6 L974.5,190.9 L977.7,191.1 L980.8,191.4 L984.0,191.7 L987.2,192.0 L990.3,192.3 L993.5,192.7 L996.7,193.0 L999.8,193.3 L1003.0,193.7 L1006.1,194.0 L1009.3,194.4 L1012.4,194.8 L1015.6,195.1 L1018.7,195.5 L1021.9,195.9 L1025.0,196.3 L1028.1,196.7 L1031.3,197.1 L1034.4,197.5 L1037.6,197.9 L1040.7,198.4 L1043.8,198.8 L1047.0,199.2 L1050.1,199.7 L1053.3,200.1 L1056.4,200.5 L1059.5,201.0 L1062.7,201.4 L1065.8,201.9 L1068.9,202.4 L1072.1,202.8 L1075.2,203.3 L1078.3,203.8 L1081.5,204.2 L1084.6,204.7 L1087.7,205.2 L1090.9,205.7 L1094.0,206.2 L1097.1,206.6 L1100.3,207.1 L1103.4,207.6 L1106.5,208.1 L1109.7,208.6 L1112.8,209.1 L1115.9,209.6 L1119.1,210.0 L1122.2,210.5 L1125.4,211.0 L1128.5,211.5 L1131.6,212.0 L1134.8,212.5 L1137.9,213.0 L1141.1,213.5 L1144.2,213.9 L1147.4,214.4 L1150.5,214.9 L1153.7,215.4 L1156.8,215.9 L1160.0,216.3 L1163.1,216.8 L1166.3,217.3 L1169.5,217.7 L1172.6,218.2 L1175.8,218.6 L1179.0,219.1 L1182.1,219.5 L1185.3,220.0 L1188.5,220.4 L1191.6,220.9 L1194.8,221.3 L1198.0,221.7 L1201.2,222.1 L1204.4,222.6 L1207.6,223.0 L1210.8,223.4 L1214.0,223.8 L1217.2,224.2 L1220.4,224.6 L1223.6,225.0 L1226.8,225.4 L1230.0,225.8 L1233.2,226.2 L1236.4,226.6 L1239.6,227.0 L1242.8,227.5 L1246.0,227.9 L1249.2,228.3 L1252.4,228.8 L1255.6,229.2 L1258.8,229.7 L1262.0,230.1 L1265.1,230.6 L1268.3,231.1 L1271.5,231.6 L1274.7,232.1 L1277.9,232.6 L1281.1,233.2 L1284.3,233.7 L1287.4,234.3 L1290.6,234.9 L1293.8,235.5 L1297.0,236.1 L1300.1,236.8 L1303.3,237.4 L1306.4,238.1 L1309.6,238.8 L1312.7,239.6 L1315.9,240.3 L1319.0,241.1 L1322.1,241.9 L1325.2,242.7 L1328.3,243.6 L1331.4,244.5 L1334.5,245.4 L1337.6,246.4 L1340.7,247.4 L1343.7,248.4 L1346.7,249.5 L1349.7,250.6 L1352.6,251.7 L1355.6,252.9 L1358.5,254.2 L1361.3,255.5 L1364.1,256.8 L1366.9,258.3 L1369.7,259.7 L1372.4,261.3 L1375.0,262.9 L1377.6,264.5 L1380.2,266.2 L1382.7,268.0 L1385.1,269.9 L1387.5,271.8 L1389.9,273.8 L1392.2,275.8 L1394.4,277.9 L1396.6,280.0 L1398.8,282.3 L1400.9,284.5 L1403.0,286.8 L1405.0,289.2 L1407.0,291.6 L1408.9,294.0 L1410.8,296.5 L1412.6,299.1 L1414.5,301.6 L1416.2,304.2 L1418.0,306.9 L1419.7,309.6 L1421.4,312.3 L1423.0,315.0 L1424.6,317.8 L1426.2,320.6 L1427.7,323.4 L1429.2,326.2 L1430.7,329.1 L1432.1,331.9 L1433.6,334.8 L1435.0,337.7 L1436.3,340.6 L1437.7,343.6 L1439.0,346.5 L1440.3,349.4 L1441.6,352.4 L1442.8,355.3 L1444.1,358.3 L1445.3,361.3 L1446.5,364.2 L1447.6,367.2 L1448.8,370.2 L1449.9,373.2 L1451.0,376.2 L1452.1,379.2 L1453.2,382.2 L1454.2,385.2 L1455.2,388.2 L1456.3,391.2 L1457.3,394.2 L1458.2,397.2 L1459.2,400.3 L1460.1,403.3 L1461.0,406.4 L1462.0,409.4 L1462.8,412.5 L1463.7,415.5 L1464.6,418.6 L1465.4,421.7 L1466.3,424.7 L1467.1,427.8 L1467.9,430.9 L1468.7,434.0 L1469.4,437.0 L1470.2,440.1 L1470.9,443.2 L1471.7,446.3 L1472.4,449.4 L1473.1,452.5 L1473.8,455.6 L1474.5,458.7 L1475.2,461.9 L1475.8,465.0 L1476.5,468.1 L1477.2,471.2 L1477.8,474.3 L1478.4,477.5 L1479.0,480.6 L1479.6,483.7 L1480.2,486.9 L1480.8,490.0 L1481.4,493.1 L1482.0,496.3 L1482.6,499.4 L1483.1,502.6 L1483.7,505.7 L1484.3,508.9 L1484.8,512.0 L1485.3,515.2 L1485.9,518.3 L1486.4,521.5 L1486.9,524.6 L1487.5,527.8 L1488.0,530.9 L1488.5,534.1 L1489.0,537.3 L1489.5,540.4 L1490.0,543.6 L1490.5,546.7 L1491.0,549.9 L1491.5,553.1 L1492.0,556.2 L1492.5,559.4 L1493.0,562.6 L1493.5,565.7 L1494.0,568.9 L1494.5,572.0 L1495.0,575.2 L1495.5,578.4 L1496.0,581.5 L1496.5,584.7 L1497.0,587.9 L1497.5,591.0 L1498.0,594.2 L1498.5,597.3 L1499.1,600.5 L1499.6,603.7 L1500.1,606.8 L1500.6,610.0 L1501.1,613.1 L1501.6,616.3 L1502.1,619.5 L1502.6,622.6 L1503.2,625.8 L1503.7,628.9 L1504.2,632.1 L1504.7,635.2 L1505.3,638.4 L1505.8,641.5 L1506.3,644.7 L1506.9,647.8 L1507.4,651.0 L1508.0,654.1 L1508.5,657.3 L1509.1,660.4 L1509.6,663.6 L1510.2,666.7 L1510.8,669.8 L1511.3,673.0 L1511.9,676.1 L1512.5,679.3 L1513.1,682.4 L1513.7,685.5 L1514.3,688.7 L1514.9,691.8 L1515.5,694.9 L1516.1,698.0 L1516.7,701.2 L1517.4,704.3 L1518.0,707.4 L1518.6,710.5 L1519.3,713.6 L1519.9,716.8 L1520.6,719.9 L1521.2,723.0 L1521.9,726.1 L1522.6,729.2 L1523.3,732.3 L1524.0,735.4 L1524.7,738.5 L1525.4,741.6 L1526.1,744.7 L1526.8,747.8 L1527.5,750.9 L1528.3,754.0 L1529.0,757.0 L1529.8,760.1 L1530.5,763.2 L1531.3,766.3 L1532.1,769.3 L1532.9,772.4 L1533.7,775.5 L1534.5,778.5 L1535.3,781.6 L1536.2,784.7 L1537.0,787.7 L1537.8,790.8 L1538.7,793.8 L1539.6,796.9 L1540.4,799.9 L1541.3,802.9 L1542.2,806.0 L1543.1,809.0 L1544.1,812.0 L1545.0,815.1 L1545.9,818.1 L1546.9,821.1 L1547.9,824.1 L1548.8,827.1 L1549.8,830.1 L1550.8,833.2 L1551.8,836.2 L1552.9,839.1 L1553.9,842.1 L1554.9,845.1 L1556.0,848.1 L1557.1,851.1 L1558.2,854.1 L1559.3,857.0 L1560.4,860.0 L1561.5,863.0 L1562.6,865.9 L1563.8,868.9 L1565.0,871.8 L1566.2,874.8 L1567.3,877.7 L1568.6,880.7 L1569.8,883.6 L1571.0,886.5 L1572.3,889.5 L1573.5,892.4 L1574.8,895.3 L1576.1,898.2 L1577.4,901.1 L1578.8,904.0 L1580.1,906.9 L1581.5,909.8 L1582.8,912.7 L1584.2,915.6 L1585.6,918.5 L1587.0,921.3 L1588.5,924.2 L1589.9,927.1 L1591.4,929.9 L1592.9,932.7 L1594.4,935.6 L1595.9,938.4 L1597.4,941.2 L1599.0,944.0 L1600.6,946.8 L1602.1,949.6 L1603.8,952.4 L1605.4,955.1 L1607.0,957.9 L1608.7,960.6 L1610.3,963.4 L1612.0,966.1 L1613.7,968.8 L1615.5,971.5 L1617.2,974.2 L1619.0,976.8 L1620.8,979.5 L1622.6,982.1 L1624.4,984.7 L1626.2,987.3 L1628.1,989.9 L1629.9,992.5 L1631.8,995.1 L1633.7,997.6 L1635.7,1000.1 L1637.6,1002.6 L1639.6,1005.1 L1641.6,1007.6 L1643.6,1010.0 L1645.6,1012.5 L1647.7,1014.9 L1649.7,1017.3 L1651.8,1019.6 L1653.9,1022.0 L1656.0,1024.3 L1658.2,1026.6 L1660.4,1028.9 L1662.5,1031.2 L1664.7,1033.5 L1667.0,1035.7 L1669.2,1037.9 L1671.4,1040.1 L1673.7,1042.3 L1676.0,1044.5 L1678.3,1046.7 L1680.6,1048.8 L1682.9,1050.9 L1685.3,1053.0 L1687.7,1055.1 L1690.0,1057.2 L1692.4,1059.2 L1694.8,1061.3 L1697.3,1063.3 L1699.7,1065.3 L1702.1,1067.3 L1704.6,1069.3 L1707.1,1071.3 L1709.6,1073.2 L1712.1,1075.2 L1714.6,1077.1 L1717.1,1079.0 L1719.7,1080.9 L1722.2,1082.8 L1724.8,1084.7 L1727.3,1086.6 L1729.9,1088.4 L1732.5,1090.2 L1735.1,1092.1 L1737.7,1093.9 L1740.4,1095.7 L1743.0,1097.5 L1745.6,1099.3 L1748.3,1101.1 L1750.9,1102.8 L1753.6,1104.6 L1756.3,1106.3 L1759.0,1108.1 L1761.7,1109.8 L1764.4,1111.5 L1767.1,1113.2 L1769.8,1114.9 L1772.5,1116.6 L1775.2,1118.3 L1777.9,1119.9 L1780.7,1121.6 L1783.4,1123.3 L1786.2,1124.9 L1788.9,1126.6 L1791.7,1128.2 L1794.4,1129.8 L1797.2,1131.5 L1800.0,1133.1 L1802.7,1134.7 L1805.5,1136.3 L1808.3,1137.9 L1811.1,1139.5 L1813.9,1141.1 L1816.7,1142.7 L1819.4,1144.3 L1822.2,1145.8 L1825.0,1147.4 L1827.8,1149.0 L1830.6,1150.5 L1833.4,1152.1 L1836.2,1153.7 L1839.0,1155.2 L1841.8,1156.8 L1844.6,1158.3 L1847.4,1159.9 L1850.2,1161.4 L1853.0,1163.0 L1855.7,1164.5 L1858.5,1166.1 L1861.3,1167.6 L1864.1,1169.1 L1866.9,1170.7 L1869.7,1172.2 L1872.4,1173.8 L1875.2,1175.3 L1878.0,1176.8 L1880.7,1178.4 L1883.5,1179.9 L1886.3,1181.5 L1889.0,1183.0" stroke="#3cb26e"/>
</g>
<line x1="279" y1="347.5" x2="1785" y2="347.5" stroke="#000" stroke-opacity="0.72" stroke-width="4.6" stroke-dasharray="15.6 15.54"/>
<g stroke="#000" stroke-width="6" fill="none" stroke-linecap="butt">
<line x1="269" y1="24" x2="1892" y2="24"/>
<line x1="269" y1="1321" x2="1892" y2="1321"/>
<line x1="283" y1="21" x2="283" y2="1346"/>
<line x1="1889" y1="21" x2="1889" y2="1346"/>
<line x1="257" y1="1158.9" x2="283" y2="1158.9"/>
<line x1="257" y1="834.6" x2="283" y2="834.6"/>
<line x1="257" y1="510.4" x2="283" y2="510.4"/>
<line x1="257" y1="186.1" x2="283" y2="186.1"/>
<line x1="269" y1="996.8" x2="283" y2="996.8"/>
<line x1="269" y1="672.5" x2="283" y2="672.5"/>
<line x1="269" y1="348.2" x2="283" y2="348.2"/>
<line x1="550.7" y1="1321" x2="550.7" y2="1346"/>
<line x1="818.3" y1="1321" x2="818.3" y2="1346"/>
<line x1="1086.0" y1="1321" x2="1086.0" y2="1346"/>
<line x1="1353.7" y1="1321" x2="1353.7" y2="1346"/>
<line x1="1621.3" y1="1321" x2="1621.3" y2="1346"/>
<line x1="416.8" y1="1321" x2="416.8" y2="1334"/>
<line x1="684.5" y1="1321" x2="684.5" y2="1334"/>
<line x1="952.2" y1="1321" x2="952.2" y2="1334"/>
<line x1="1219.8" y1="1321" x2="1219.8" y2="1334"/>
<line x1="1487.5" y1="1321" x2="1487.5" y2="1334"/>
<line x1="1755.2" y1="1321" x2="1755.2" y2="1334"/>
</g>
<g font-size="81" fill="#000">
<text x="240.5" y="207.8" text-anchor="end">100</text>
<text x="240.5" y="533.5" text-anchor="end">90</text>
<text x="240.5" y="856.5" text-anchor="end">80</text>
<text x="240.5" y="1181.0" text-anchor="end">70</text>
<text x="283.0" y="1425" text-anchor="middle">100</text>
<text x="550.7" y="1425" text-anchor="middle">200</text>
<text x="818.3" y="1425" text-anchor="middle">300</text>
<text x="1086.0" y="1425" text-anchor="middle">400</text>
<text x="1353.7" y="1425" text-anchor="middle">500</text>
<text x="1621.3" y="1425" text-anchor="middle">600</text>
<text x="1889.0" y="1425" text-anchor="middle">700</text>
</g>
<text font-size="81" transform="translate(89.1,863.2) rotate(-90)">Weight<tspan x="247.8" textLength="32.2" lengthAdjust="spacingAndGlyphs">(</tspan><tspan x="273.2" font-size="84" textLength="88.2" lengthAdjust="spacingAndGlyphs">%</tspan><tspan x="352.6" textLength="32.2" lengthAdjust="spacingAndGlyphs">)</tspan></text>
<text font-size="81" y="1555"><tspan x="781.8" letter-spacing="-0.86">Temperature </tspan><tspan x="1248.7" textLength="32.4" lengthAdjust="spacingAndGlyphs">(</tspan><tspan x="1276.3" y="1562.5" font-size="90">°</tspan><tspan x="1306.0" y="1556.0" font-size="86">C</tspan><tspan x="1358.6" y="1555" textLength="32.4" lengthAdjust="spacingAndGlyphs">)</tspan></text>
<line x1="317.5" y1="992.0" x2="469" y2="992.0" stroke="#555555" stroke-width="9" stroke-linecap="round"/>
<text x="486.3" y="1015.5" font-size="70" letter-spacing="-1.8">BP-PENK 0</text>
<line x1="317.5" y1="1076.3" x2="469" y2="1076.3" stroke="#fc4444" stroke-width="9" stroke-linecap="round"/>
<text x="486.3" y="1099.8" font-size="70" letter-spacing="-1.8">BP-PENK20</text>
<line x1="317.5" y1="1160.6" x2="469" y2="1160.6" stroke="#1b74e8" stroke-width="9" stroke-linecap="round"/>
<text x="486.3" y="1184.1" font-size="70" letter-spacing="-1.8">BP-PENK25</text>
<line x1="317.5" y1="1244.9" x2="469" y2="1244.9" stroke="#3cb26e" stroke-width="9" stroke-linecap="round"/>
<text x="486.3" y="1268.4" font-size="70" letter-spacing="-1.8">BP-PENK30</text>
</svg></body></html>
